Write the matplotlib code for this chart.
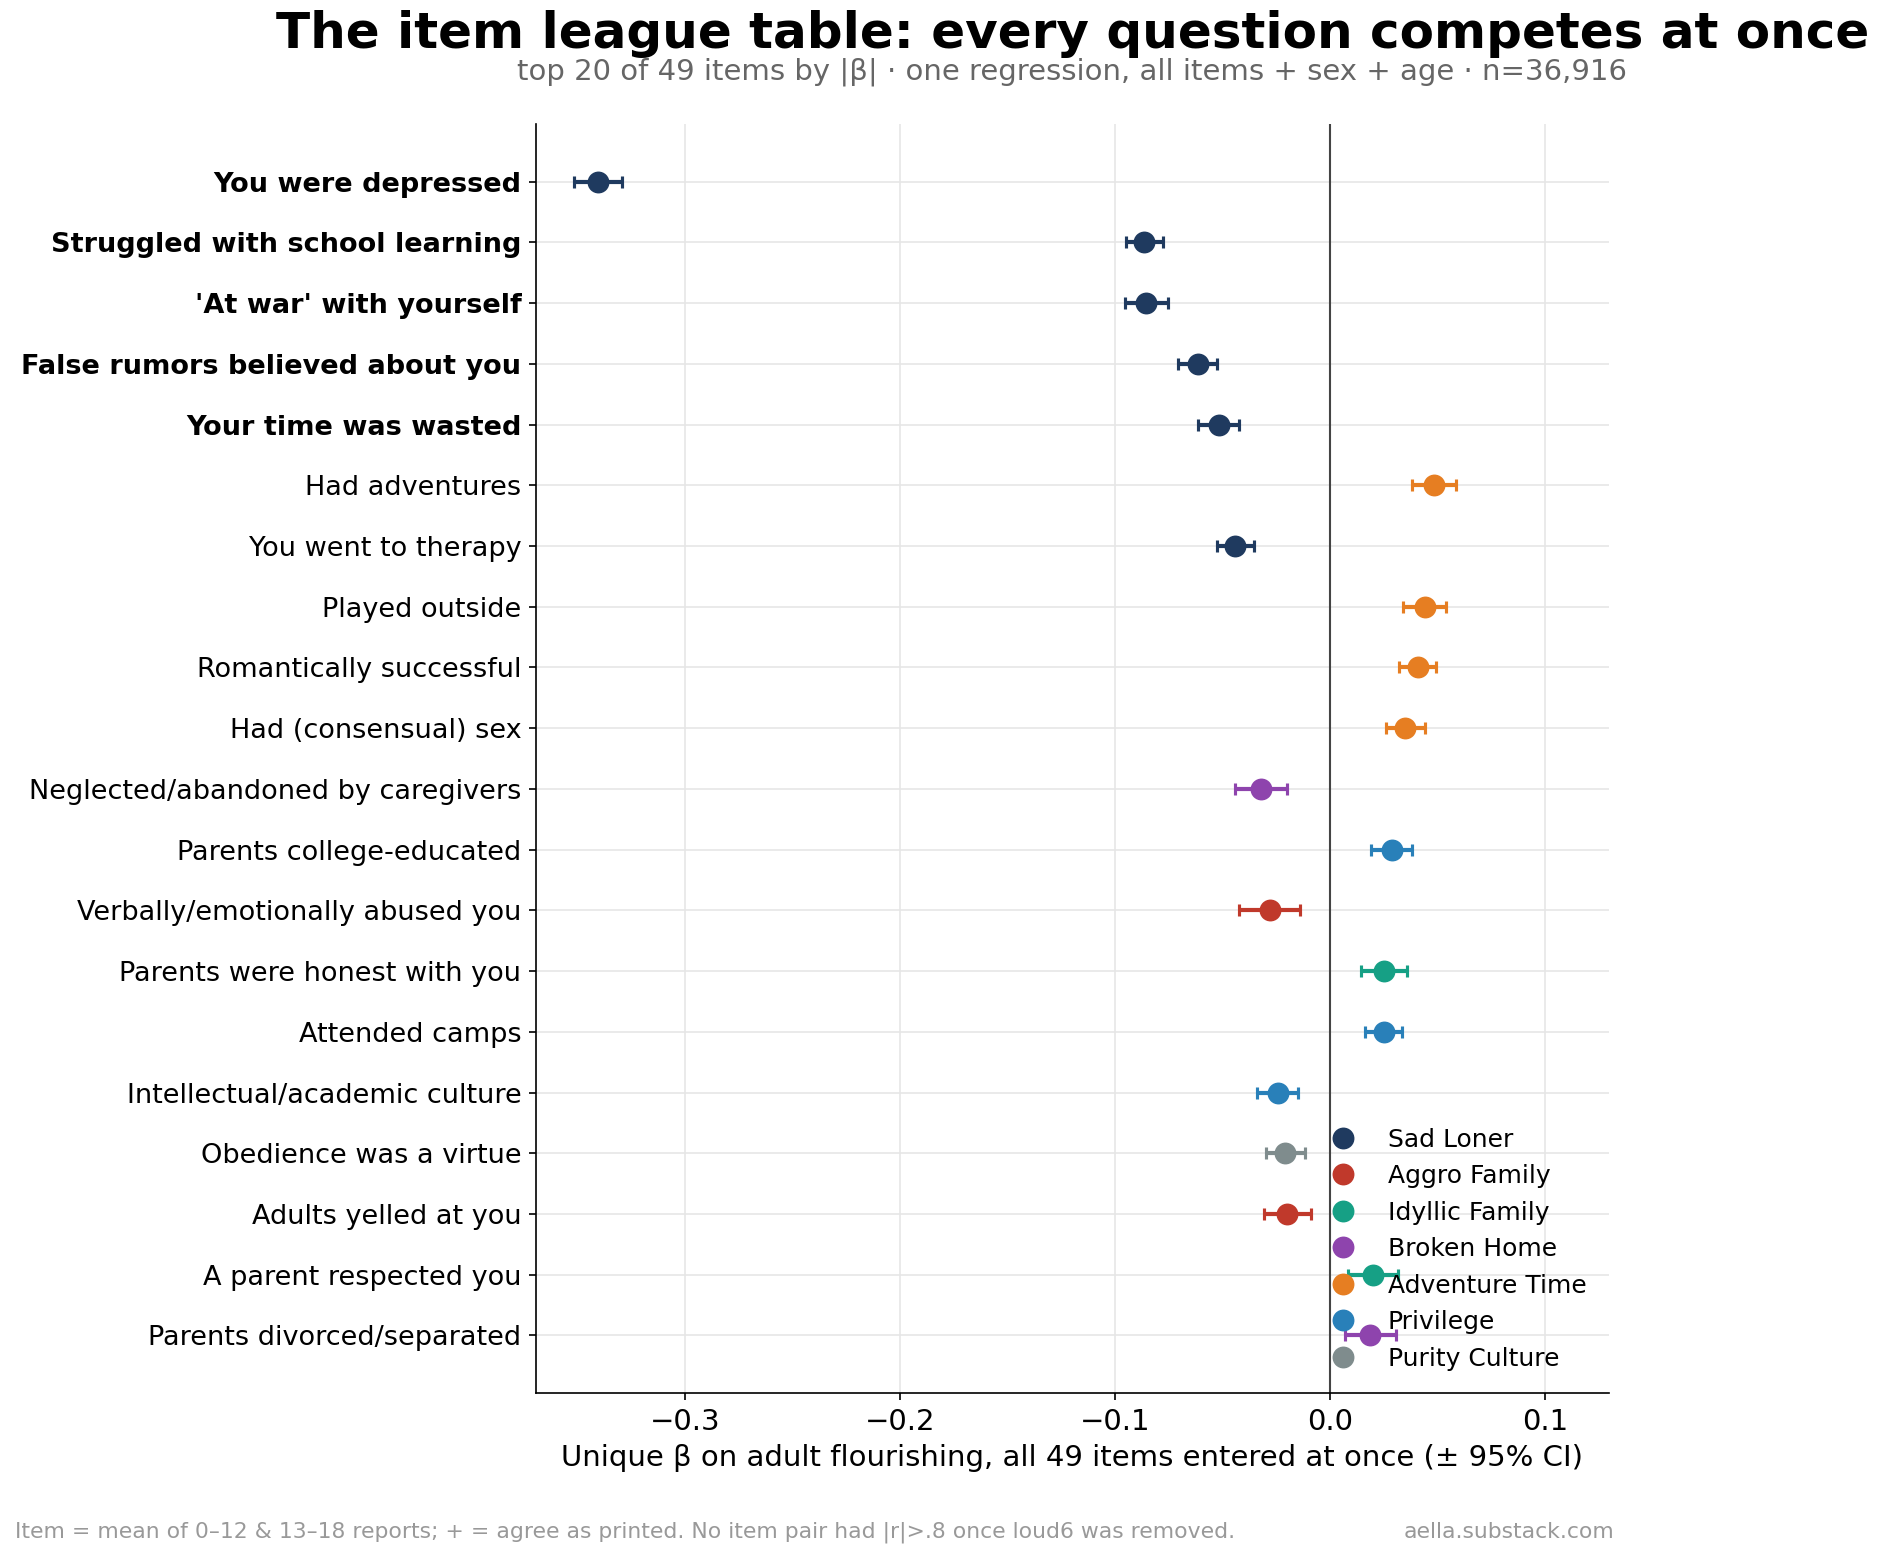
import matplotlib
matplotlib.use("Agg")
import matplotlib.pyplot as plt
from matplotlib.lines import Line2D

# items, top to bottom
items = [
    "You were depressed",
    "Struggled with school learning",
    "'At war' with yourself",
    "False rumors believed about you",
    "Your time was wasted",
    "Had adventures",
    "You went to therapy",
    "Played outside",
    "Romantically successful",
    "Had (consensual) sex",
    "Neglected/abandoned by caregivers",
    "Parents college-educated",
    "Verbally/emotionally abused you",
    "Parents were honest with you",
    "Attended camps",
    "Intellectual/academic culture",
    "Obedience was a virtue",
    "Adults yelled at you",
    "A parent respected you",
    "Parents divorced/separated",
]
beta = [-0.3405, -0.0864, -0.0855, -0.0617, -0.0519, 0.0484, -0.0441, 0.0439,
        0.0406, 0.0350, -0.0322, 0.0285, -0.0282, 0.0251, 0.0248, -0.0245,
        -0.0208, -0.0199, 0.0200, 0.0187]
ci = [0.0112, 0.0087, 0.0101, 0.0091, 0.0096, 0.0102, 0.0087, 0.0100,
      0.0085, 0.0090, 0.0119, 0.0096, 0.0140, 0.0107, 0.0084, 0.0096,
      0.0089, 0.0108, 0.0115, 0.0117]
factor = ["Sad Loner", "Sad Loner", "Sad Loner", "Sad Loner", "Sad Loner",
          "Adventure Time", "Sad Loner", "Adventure Time", "Adventure Time",
          "Adventure Time", "Broken Home", "Privilege", "Aggro Family",
          "Idyllic Family", "Privilege", "Privilege", "Purity Culture",
          "Aggro Family", "Idyllic Family", "Broken Home"]
bold_items = 5

factors = ["Sad Loner", "Aggro Family", "Idyllic Family", "Broken Home",
           "Adventure Time", "Privilege", "Purity Culture"]
colors = {
    "Sad Loner": "#1f3a5f",
    "Aggro Family": "#c0392b",
    "Idyllic Family": "#16a085",
    "Broken Home": "#8e44ad",
    "Adventure Time": "#e67e22",
    "Privilege": "#2980b9",
    "Purity Culture": "#7f8c8d",
}

fig = plt.figure(figsize=(12.56, 10.4), dpi=150)
ax = fig.add_axes([0.2845, 0.107, 0.5695, 0.8135])

n = len(items)
for i in range(n):
    y = n - 1 - i
    c = colors[factor[i]]
    ax.errorbar(beta[i], y, xerr=ci[i], fmt="o", color=c, ms=9.5,
                elinewidth=2, capsize=3, capthick=1.5, zorder=3)

ax.axvline(0, color="#444444", lw=1.0, zorder=2)
ax.set_yticks(range(n))
ax.set_yticklabels(items[::-1], fontsize=13)
for k, lab in enumerate(ax.get_yticklabels()):
    if n - 1 - k < bold_items:
        lab.set_fontweight("bold")
ax.set_xlim(-0.3693, 0.1296)
ax.set_xticks([-0.3, -0.2, -0.1, 0.0, 0.1])
ax.tick_params(axis="x", labelsize=14)
ax.grid(True, color="#e6e6e6", lw=0.8, zorder=0)
ax.set_axisbelow(True)
ax.spines["top"].set_visible(False)
ax.spines["right"].set_visible(False)
ax.set_xlabel("Unique β on adult flourishing, all 49 items entered at once (± 95% CI)",
              fontsize=14)

handles = [Line2D([0], [0], marker="o", ls="none", color=colors[f], ms=9.5)
           for f in factors]
ax.legend(handles, factors, loc="lower right", frameon=False, fontsize=12)

xc = 0.2845 + 0.5695 / 2
fig.text(xc, 0.978, "The item league table: every question competes at once",
         ha="center", va="center", fontsize=24, fontweight="bold")
fig.text(xc, 0.954, "top 20 of 49 items by |β| · one regression, all items + sex + age · n=36,916",
         ha="center", va="center", fontsize=14, color="#666666")
fig.text(0.008, 0.018,
         "Item = mean of 0–12 & 13–18 reports; + = agree as printed. No item pair had |r|>.8 once loud6 was removed.",
         ha="left", va="center", fontsize=10.5, color="#999999")
fig.text(0.857, 0.018, "aella.substack.com", ha="right", va="center",
         fontsize=10.5, color="#999999")

fig.savefig("out.png", dpi=150)
